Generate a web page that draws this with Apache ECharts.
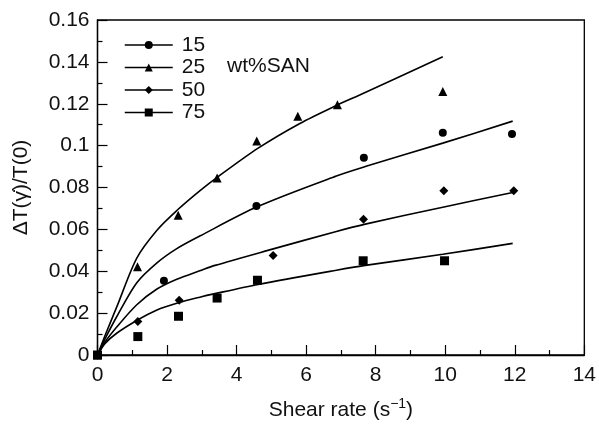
<!DOCTYPE html>
<html>
<head>
<meta charset="utf-8">
<script src="https://cdn.jsdelivr.net/npm/echarts@6/dist/echarts.min.js"></script>
<style>
html,body{margin:0;padding:0;background:#fff;}
#chart{width:599px;height:426px;}
</style>
</head>
<body>
<div id="chart"></div>
<script>
// Legend names (wt% SAN)
const seriesNames = ['15', '25', '50', '75'];
const symbols = ['circle', 'triangle', 'diamond', 'rect'];
const symbolSizes = [8, 9, 9, 9];

// Measured points [shear rate, ΔT/T(0)]
const pts15 = [[0, 0], [1.91, 0.0355], [4.57, 0.0712], [7.66, 0.0942], [9.93, 0.1062], [11.92, 0.1056]];
const pts25 = [[0, 0], [1.15, 0.0422], [2.32, 0.0668], [3.44, 0.0845], [4.58, 0.1022], [5.76, 0.1140], [6.9, 0.1195], [9.93, 0.1258]];
const pts50 = [[0, 0], [1.16, 0.0160], [2.35, 0.0262], [5.05, 0.0475], [7.65, 0.0648], [9.96, 0.0785], [11.97, 0.0785]];
const pts75 = [[0, 0], [1.16, 0.0088], [2.33, 0.0185], [3.44, 0.0272], [4.6, 0.0357], [7.64, 0.0450], [9.98, 0.0450]];

// Fitted curves
const fit15 = [[0, 0], [0.22, 0.0078], [0.56, 0.0185], [1.13, 0.0345], [1.71, 0.0440], [2.28, 0.0508], [2.94, 0.0568], [4.62, 0.0710], [6.87, 0.0855], [7.7, 0.0900], [9.93, 0.1012], [11.94, 0.1117]];
const fit25 = [[0, 0], [0.22, 0.0094], [0.56, 0.0232], [1.13, 0.0463], [1.71, 0.0596], [2.28, 0.0690], [2.94, 0.0784], [3.47, 0.0852], [4.62, 0.0988], [5.82, 0.1106], [6.87, 0.1192], [7.54, 0.1242], [9.93, 0.1424]];
const fit50 = [[0, 0], [0.22, 0.0063], [0.56, 0.0135], [1.13, 0.0240], [1.71, 0.0315], [2.28, 0.0362], [2.94, 0.0402], [3.38, 0.0428], [4.95, 0.0502], [6.87, 0.0590], [7.7, 0.0625], [9.93, 0.0706], [11.94, 0.0776]];
const fit75 = [[0, 0], [0.22, 0.0055], [0.56, 0.0105], [1.13, 0.0165], [1.71, 0.0215], [2.28, 0.0247], [2.94, 0.0276], [3.38, 0.0293], [4.62, 0.0337], [6.87, 0.0405], [7.7, 0.0428], [9.93, 0.0481], [11.94, 0.0533]];

// Axis settings
const xTicks = {min: 0, max: 14, interval: 2};
const yTicks = {min: 0, max: 0.16, interval: 0.02};
const xName = 'Shear rate (s';
const xNameSup = '−1';
const yName = 'ΔT(γ̇)/T(0)';
const noteText = 'wt%SAN';

const pointSets = [pts15, pts25, pts50, pts75];
const fitSets = [fit15, fit25, fit50, fit75];
const FONT = 'Liberation Sans, Arial, Helvetica, sans-serif';
const FS = 21;

const chart = echarts.init(document.getElementById('chart'), null, {renderer: 'canvas'});

const series = [];
fitSets.forEach((d, i) => {
  series.push({
    name: 'fit' + seriesNames[i],
    type: 'line',
    data: d,
    smooth: 0.3,
    symbol: 'none',
    silent: true,
    lineStyle: {color: '#000', width: 1.6},
    z: 2
  });
});
pointSets.forEach((d, i) => {
  series.push({
    name: seriesNames[i],
    type: 'line',
    data: d,
    symbol: symbols[i],
    symbolSize: symbolSizes[i],
    showAllSymbol: true,
    itemStyle: {color: '#000'},
    lineStyle: {width: 0, opacity: 0},
    z: 3
  });
});

chart.setOption({
  animation: false,
  backgroundColor: '#fff',
  textStyle: {fontFamily: FONT},
  grid: {left: 97.5, right: 14, top: 20, bottom: 66, show: true, borderColor: '#000', borderWidth: 1.3, backgroundColor: 'transparent'},
  legend: {
    data: seriesNames,
    orient: 'vertical',
    left: 124,
    top: 34,
    padding: 0,
    itemWidth: 48,
    itemHeight: 10,
    itemGap: 0.5,
    lineStyle: {color: '#000', width: 1.5, opacity: 1},
    textStyle: {fontFamily: FONT, fontSize: FS, lineHeight: 22, color: '#111', padding: [0, 0, 0, 4]},
    selectedMode: false
  },
  graphic: [{
    type: 'text',
    left: 227,
    top: 56,
    style: {text: noteText, font: FS + 'px ' + FONT, fill: '#111'}
  }],
  xAxis: {
    type: 'value',
    min: xTicks.min, max: xTicks.max, interval: xTicks.interval,
    name: '{a|' + xName + '}{b|' + xNameSup + '}{a|)}',
    nameLocation: 'middle',
    nameGap: 42,
    nameTextStyle: {
      rich: {
        a: {fontFamily: FONT, fontSize: FS, color: '#111', lineHeight: 26},
        b: {fontFamily: FONT, fontSize: 14, color: '#111', verticalAlign: 'top', lineHeight: 26, padding: [0, 0, 10, 0]}
      }
    },
    axisLine: {lineStyle: {color: '#000', width: 1.3}},
    axisTick: {inside: true, length: 10, lineStyle: {color: '#000', width: 1.2}},
    minorTick: {show: true, splitNumber: 2, length: 5, lineStyle: {color: '#000', width: 1.2}},
    axisLabel: {fontFamily: FONT, fontSize: FS, color: '#111', margin: 10},
    splitLine: {show: false}
  },
  yAxis: {
    type: 'value',
    min: yTicks.min, max: yTicks.max, interval: yTicks.interval,
    name: yName,
    nameLocation: 'middle',
    nameGap: 66,
    nameTextStyle: {fontFamily: FONT, fontSize: FS, color: '#111'},
    axisLine: {lineStyle: {color: '#000', width: 1.3}},
    axisTick: {inside: true, length: 10, lineStyle: {color: '#000', width: 1.2}},
    minorTick: {show: true, splitNumber: 2, length: 5, lineStyle: {color: '#000', width: 1.2}},
    axisLabel: {fontFamily: FONT, fontSize: FS, color: '#111', margin: 8,
      formatter: v => String(+v.toFixed(2))},
    splitLine: {show: false}
  },
  series: series
});
</script>
</body>
</html>
